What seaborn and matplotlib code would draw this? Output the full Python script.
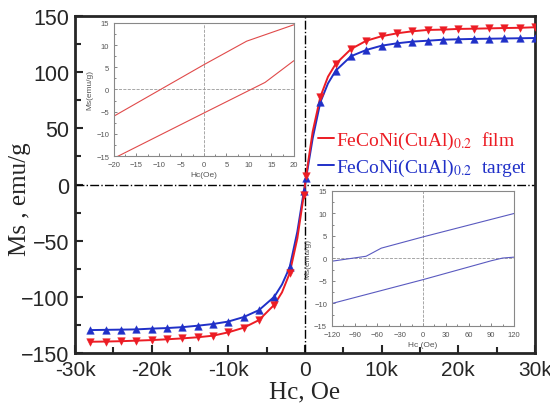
import numpy as np
import pandas as pd
import matplotlib
matplotlib.use('Agg')
import matplotlib.pyplot as plt
import seaborn as sns
from matplotlib.lines import Line2D
from matplotlib.ticker import FuncFormatter, MultipleLocator

# main loops, marker points (Oe, emu/g)
hc_film = [-28000, -26000, -24000, -22000, -20000, -18000, -16000, -14000, -12000, -10000,
           -8000, -6000, -4000, -2000, -150, 150, 2000, 4000, 6000, 8000, 10000, 12000,
           14000, 16000, 18000, 20000, 22000, 24000, 26000, 28000, 30000]
ms_film = [-140, -139.8, -139.5, -139, -138.5, -137.8, -137, -136, -134.6, -131.6,
           -127.5, -120.7, -107, -79, -9, 8, 78, 107.3, 120.6, 128, 132, 134.6,
           136.4, 137.6, 137.9, 138.5, 138.7, 139, 139.3, 139.5, 140]
hc_target = [-28000, -26000, -24000, -22000, -20000, -18000, -16000, -14000, -12000, -10000,
             -8000, -6000, -4000, -2000, -150, 150, 2000, 4000, 6000, 8000, 10000, 12000,
             14000, 16000, 18000, 20000, 22000, 24000, 26000, 28000, 30000]
ms_target = [-129.6, -129.4, -129.2, -129, -128.3, -127.8, -127, -125.7, -124.2, -122,
             -118, -111.8, -99.9, -73.7, -6, 6, 73.2, 101.3, 114.2, 119.8, 123.6, 125.7,
             127.2, 128, 128.9, 129.3, 129.6, 129.8, 130, 130.2, 130.4]
# extra points (steep part)
hc_extra = [-3000, -1000, 1000, 3000]
ms_film_extra = [-96, -48, 47, 96]
ms_target_extra = [-89, -42, 41, 90]

# inset 1 (film, +-20 Oe)
film_up_hc = [-20, 0, 9.5, 20]
film_up_ms = [-6, 5.6, 10.9, 14.6]
film_dn_hc = [-20, 0, 13.6, 20]
film_dn_ms = [-15.5, -5.3, 1.6, 6.5]

# inset 2 (target, +-120 Oe)
targ_up_hc = [-120, -75, -55, 0, 120]
targ_up_ms = [-0.6, 0.5, 2.3, 4.8, 10]
targ_dn_hc = [-120, 0, 90, 105, 120]
targ_dn_ms = [-10, -4.7, -0.5, 0.1, 0.3]

red = '#ec1c24'
blue = '#2030c8'

sns.set_style('ticks')
plt.rcParams['font.family'] = ['Liberation Sans', 'DejaVu Sans']
plt.rcParams['mathtext.fontset'] = 'stix'

fig = plt.figure(figsize=(5.5, 4.06), dpi=100)
ax = fig.add_axes([0.1364, 0.1281, 0.8363, 0.83])

film_line = pd.DataFrame({'hc': hc_film + hc_extra, 'ms': ms_film + ms_film_extra}).sort_values('hc')
targ_line = pd.DataFrame({'hc': hc_target + hc_extra, 'ms': ms_target + ms_target_extra}).sort_values('hc')

sns.lineplot(data=targ_line, x='hc', y='ms', color=blue, lw=1.4, sort=False, estimator=None, ax=ax)
sns.lineplot(data=film_line, x='hc', y='ms', color=red, lw=1.4, sort=False, estimator=None, ax=ax)
sns.scatterplot(x=hc_target, y=ms_target, color=blue, marker='^', s=30, edgecolor=blue, linewidth=0.3, ax=ax, zorder=4)
sns.scatterplot(x=hc_film, y=ms_film, color=red, marker='v', s=30, edgecolor=red, linewidth=0.3, ax=ax, zorder=4)

ax.axhline(0, color='black', lw=1.0, ls='-.', zorder=1)
ax.axvline(0, color='black', lw=1.0, ls='-.', zorder=1)

ax.set_xlim(-30000, 30000)
ax.set_ylim(-150, 150)
ax.xaxis.set_major_locator(MultipleLocator(10000))
ax.xaxis.set_minor_locator(MultipleLocator(5000))
ax.yaxis.set_major_locator(MultipleLocator(50))
ax.yaxis.set_minor_locator(MultipleLocator(25))
ax.xaxis.set_major_formatter(FuncFormatter(lambda v, p: '0' if v == 0 else '%dk' % round(v / 1000)))
ax.tick_params(which='major', direction='in', length=6, width=1.5, labelsize=15, top=False, right=False)
ax.tick_params(axis='x', which='major', pad=5)
ax.tick_params(axis='y', which='major', labelsize=15.5, pad=4)
ax.tick_params(which='minor', direction='in', length=4, width=1.5, top=False, right=False)
for s in ax.spines.values():
    s.set_linewidth(2)
ax.set_xlabel('Hc, Oe', family='Liberation Serif', fontsize=18, labelpad=1)
ax.set_ylabel('Ms , emu/g', family='Liberation Serif', fontsize=18)
ax.yaxis.set_label_coords(-0.095, 0.46)

handles = [Line2D([], [], color=red, lw=1.4), Line2D([], [], color=blue, lw=1.4)]
labels = [r'FeCoNi(CuAl)$_{\mathrm{0.2}}$  film', r'FeCoNi(CuAl)$_{\mathrm{0.2}}$  target']
leg = ax.legend(handles, labels, loc='center left', bbox_to_anchor=(0.528, 0.592), frameon=False,
                handlelength=0.85, handletextpad=0.1, borderpad=0, borderaxespad=0, labelspacing=0.3,
                prop={'family': 'Liberation Serif', 'size': 14})
for t, c in zip(leg.get_texts(), [red, blue]):
    t.set_color(c)


def style_inset(a, xlim, ylim, xstep, xminor, xlabel):
    a.set_xlim(*xlim)
    a.set_ylim(*ylim)
    a.xaxis.set_major_locator(MultipleLocator(xstep))
    a.xaxis.set_minor_locator(MultipleLocator(xminor))
    a.yaxis.set_major_locator(MultipleLocator(5))
    a.yaxis.set_minor_locator(MultipleLocator(2.5))
    a.tick_params(which='both', direction='in', labelsize=5.5, colors='#555555', width=0.5)
    a.tick_params(which='major', length=2.5)
    a.tick_params(which='minor', length=1.5)
    for s in a.spines.values():
        s.set_color('#888888')
        s.set_linewidth(0.8)
    a.axhline(0, color='#999999', lw=0.6, ls='--', zorder=1)
    a.axvline(0, color='#999999', lw=0.6, ls='--', zorder=1)
    a.set_xlabel(xlabel, fontsize=6, color='#555555', labelpad=2)
    a.set_ylabel('Ms(emu/g)', fontsize=6, color='#555555', labelpad=2)


ins1 = fig.add_axes([0.2073, 0.6133, 0.327, 0.3276])
sns.lineplot(x=film_up_hc, y=film_up_ms, color='#e04a4a', lw=0.8, sort=False, estimator=None, ax=ins1)
sns.lineplot(x=film_dn_hc, y=film_dn_ms, color='#e04a4a', lw=0.8, sort=False, estimator=None, ax=ins1)
style_inset(ins1, (-20, 20), (-15, 15), 5, 2.5, 'Hc(Oe)')

ins2 = fig.add_axes([0.6036, 0.1946, 0.331, 0.3325])
sns.lineplot(x=targ_up_hc, y=targ_up_ms, color='#5a5ac0', lw=0.8, sort=False, estimator=None, ax=ins2)
sns.lineplot(x=targ_dn_hc, y=targ_dn_ms, color='#5a5ac0', lw=0.8, sort=False, estimator=None, ax=ins2)
style_inset(ins2, (-120, 120), (-15, 15), 30, 15, 'Hc (Oe)')

fig.savefig('out.png', dpi=100)
